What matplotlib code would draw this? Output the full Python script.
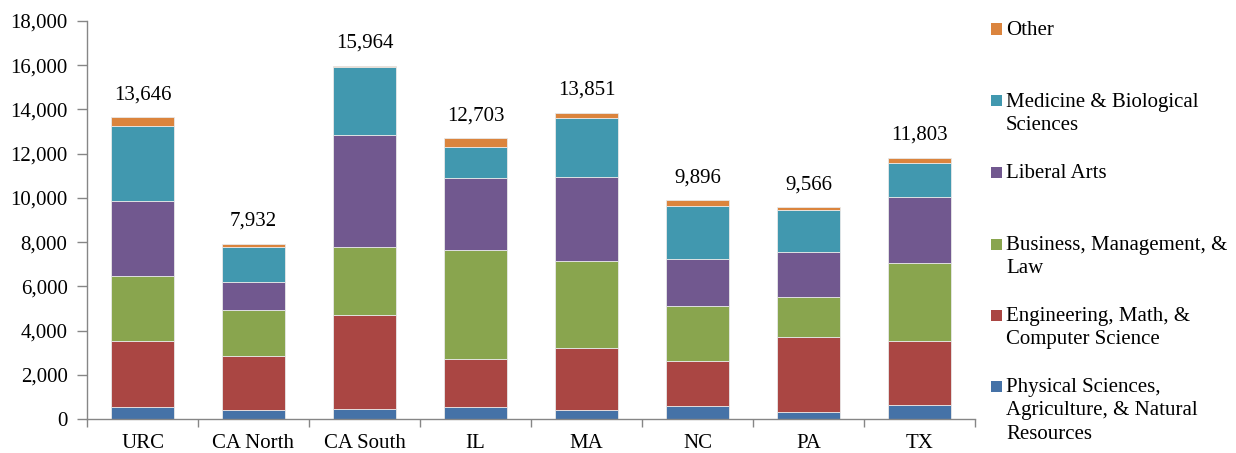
import matplotlib
matplotlib.use("Agg")
import matplotlib.pyplot as plt
import numpy as np
from matplotlib.patches import Rectangle

plt.rcParams['font.family'] = ['Liberation Serif', 'DejaVu Serif']

categories = ["URC", "CA North", "CA South", "IL", "MA", "NC", "PA", "TX"]
series_names = [
    "Physical Sciences,\nAgriculture, & Natural\nResources",
    "Engineering, Math, &\nComputer Science",
    "Business, Management, &\nLaw",
    "Liberal Arts",
    "Medicine & Biological\nSciences",
    "Other",
]
physical    = [556, 407, 452, 542, 420, 587, 330, 633]
engineering = [2951, 2454, 4248, 2183, 2770, 2016, 3389, 2874]
business    = [2938, 2078, 3073, 4926, 3964, 2517, 1794, 3556]
liberal     = [3406, 1235, 5089, 3267, 3782, 2110, 2061, 2996]
medicine    = [3417, 1599, 3068, 1387, 2666, 2423, 1884, 1510]
other       = [378, 159, 34, 398, 249, 243, 108, 234]
totals      = [13646, 7932, 15964, 12703, 13851, 9896, 9566, 11803]

colors = ["#4572A7", "#AA4643", "#89A54E", "#71588F", "#4198AF", "#DB843D"]

FS = 15

fig = plt.figure(figsize=(12.36, 4.53), dpi=100)
ax = fig.add_axes([87/1236, 1-419/453, 888/1236, 398/453])

x = np.arange(len(categories))
data = [physical, engineering, business, liberal, medicine, other]
bottom = np.zeros(len(categories))
for vals, col, name in zip(data, colors, series_names):
    ax.bar(x, vals, width=0.56, bottom=bottom, color=col, edgecolor='#E8E8E8',
           linewidth=0.6, label=name)
    bottom += np.array(vals)

for xi, t in zip(x, totals):
    ax.annotate(f"{t:,}", (xi, t), xytext=(0, 13), textcoords='offset points',
                ha='center', va='baseline', fontsize=FS)

ax.set_xlim(-0.5, len(categories) - 0.5)
ax.set_ylim(0, 18000)
ax.set_yticks(np.arange(0, 18001, 2000))
ax.set_yticklabels([f"{v:,}" for v in range(0, 18001, 2000)], fontsize=FS)
ax.set_xticks(np.arange(-0.5, len(categories), 1.0))
ax.set_xticklabels([])
ax.set_xticks(x, minor=True)
ax.set_xticklabels(categories, minor=True, fontsize=FS)
ax.tick_params(axis='x', which='minor', length=0, pad=11)
ax.tick_params(axis='x', which='major', length=6, color='#868686', width=1)
ax.tick_params(axis='y', length=7, color='#868686', width=1, pad=7)
for s in ['top', 'right']:
    ax.spines[s].set_visible(False)
for s in ['left', 'bottom']:
    ax.spines[s].set_color('#868686')
    ax.spines[s].set_linewidth(1)

# Legend (manual, Excel-like layout)
W, H = 1236, 453
first_line_y = [386, 315, 244, 172, 100.7, 29]
for name, col, yc in zip(series_names, colors, first_line_y):
    fig.patches.append(Rectangle((991/W, 1-(yc+5.5)/H), 11/W, 11/H,
                                 transform=fig.transFigure, facecolor=col,
                                 edgecolor='none'))
    fig.text(1006/W, 1-(yc-8)/H, name, ha='left', va='top', fontsize=FS,
             linespacing=1.32)

fig.savefig("out.png", dpi=100)
